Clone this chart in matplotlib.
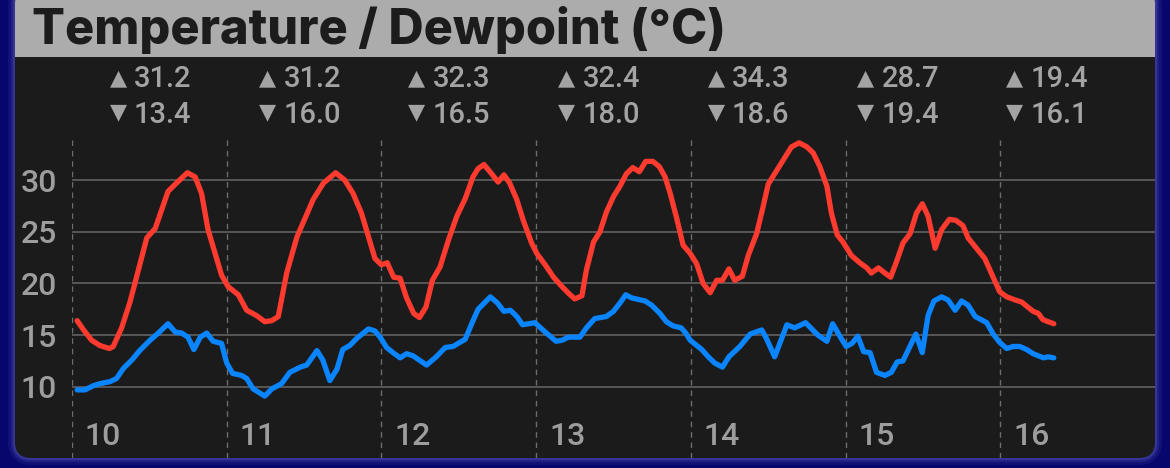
import matplotlib
matplotlib.use("Agg")
import matplotlib.pyplot as plt
from matplotlib.patches import FancyBboxPatch, Rectangle
from matplotlib import transforms

# ---------------- data ----------------
days = [10, 11, 12, 13, 14, 15, 16]
daily_max = [31.2, 31.2, 32.3, 32.4, 34.3, 28.7, 19.4]
daily_min = [13.4, 16.0, 16.5, 18.0, 18.6, 19.4, 16.1]
y_ticks = [10, 15, 20, 25, 30]

# hours since day 10 00:00
temp_hours = [0.8, 1.8, 3.05, 4.3, 5.8, 6.4, 7.7, 9.0, 10.3, 11.6, 12.9, 13.9, 14.9, 16.2, 17.9,
              19.1, 20.1, 21.1, 22.2, 23.2, 24.2, 25.8, 27.1, 28.6, 29.9, 31.0, 32.0, 33.3, 34.9,
              37.4, 39.0, 40.9, 42.3, 43.6, 44.9, 46.0, 47.0, 48.0, 48.9, 49.9, 50.9, 51.9, 53.0,
              53.9, 54.9, 55.9, 57.1, 58.4, 59.7, 61.0, 62.2, 63.0, 63.9, 65.1, 66.1, 67.0, 67.9,
              69.0, 70.0, 71.3, 72.1, 73.4, 74.7, 76.0, 77.1, 78.0, 79.1, 79.8, 80.9, 81.9, 82.9,
              84.0, 85.0, 86.0, 87.0, 88.0, 89.0, 90.1, 91.1, 92.0, 92.8, 93.8, 94.8, 95.9, 96.9,
              97.9, 99.0, 100.0, 100.9, 101.9, 102.8, 104.0, 104.9, 106.2, 107.2, 108.0, 109.0,
              110.3, 111.6, 112.8, 114.0, 115.0, 116.0, 117.1, 117.8, 118.7, 119.6, 120.9, 122.2,
              123.3, 124.0, 125.1, 126.1, 127.0, 127.9, 128.9, 130.0, 131.0, 131.9, 132.8, 133.9,
              134.9, 136.1, 137.1, 138.2, 139.0, 140.3, 141.6, 142.6, 143.9, 145.0, 146.3, 147.3,
              148.3, 149.1, 149.9, 150.6, 151.4, 152.3]
temperature = [16.4, 15.5, 14.5, 14.0, 13.7, 13.9, 15.7, 18.2, 21.3, 24.4, 25.3, 27.1, 28.9, 29.7, 30.7,
               30.3, 28.7, 25.2, 22.9, 20.8, 19.7, 18.9, 17.4, 16.9, 16.3, 16.4, 16.8, 21.0, 24.5,
               28.1, 29.7, 30.7, 30.0, 28.7, 26.8, 24.5, 22.4, 21.8, 22.0, 20.6, 20.5, 18.6, 17.1,
               16.7, 17.7, 20.3, 21.6, 24.2, 26.5, 28.2, 30.3, 31.1, 31.5, 30.6, 29.8, 30.5, 29.7,
               28.1, 26.1, 23.9, 22.9, 21.8, 20.6, 19.7, 19.0, 18.5, 18.8, 21.3, 24.0, 25.0, 26.9,
               28.4, 29.4, 30.6, 31.2, 30.8, 31.8, 31.8, 31.3, 30.3, 28.7, 26.3, 23.7, 22.9, 21.9,
               20.0, 19.1, 20.3, 20.3, 21.4, 20.3, 20.7, 22.7, 24.8, 27.4, 29.6, 30.6,
               31.9, 33.2, 33.6, 33.2, 32.6, 31.3, 29.4, 26.8, 24.7, 24.0, 22.7, 22.0,
               21.5, 21.0, 21.5, 21.0, 20.6, 22.1, 23.9, 24.8, 26.8, 27.7, 26.5, 23.4,
               25.2, 26.2, 26.1, 25.6, 24.4, 23.4, 22.4, 21.0, 19.2, 18.7, 18.4, 18.2,
               17.7, 17.3, 17.1, 16.5, 16.3, 16.1]

dew_hours = [0.8, 2.0, 3.3, 4.3, 5.9, 6.9, 8.0, 9.3, 10.5, 12.1, 13.4, 14.9, 16.0, 17.0, 18.0, 18.9,
             19.9, 20.9, 21.9, 23.2, 24.0, 24.9, 26.3, 27.1, 28.1, 29.9, 31.0, 32.5, 33.8, 35.4,
             36.4, 38.0, 38.9, 40.0, 41.1, 42.0, 43.1, 44.2, 46.0, 47.0, 47.8, 48.8, 49.8, 50.9,
             51.9, 52.9, 55.0, 56.5, 57.9, 59.1, 61.0, 62.0, 63.0, 64.9, 66.0, 67.0, 68.0, 69.0,
             69.9, 71.8, 73.4, 75.1, 76.0, 77.0, 78.8, 79.8, 81.1, 82.9, 84.0, 85.0, 85.9, 86.8,
             88.9, 89.9, 91.2, 92.2, 93.2, 94.5, 95.2, 95.9, 97.7, 98.7, 99.7, 100.9, 101.9, 103.6,
             105.2, 107.0, 107.7, 109.0, 110.9, 112.1, 113.8, 115.7, 117.1, 118.0, 119.2, 120.1,
             121.0, 121.9, 122.8, 123.8, 124.8, 126.1, 127.1, 128.0, 128.9, 130.9, 131.9, 132.8,
             133.7, 134.9, 135.9, 137.0, 138.0, 139.0, 140.1, 141.9, 142.9, 143.9, 145.0, 146.0,
             147.0, 148.1, 149.1, 149.9, 150.7, 151.4, 152.3]
dewpoint = [9.7, 9.7, 10.1, 10.3, 10.5, 10.8, 11.8, 12.6, 13.5, 14.5, 15.2, 16.1, 15.3, 15.2, 14.8, 13.6,
            14.8, 15.2, 14.4, 14.2, 12.3, 11.3, 11.1, 10.8, 9.8, 9.1, 9.8, 10.3, 11.4, 11.9,
            12.1, 13.5, 12.6, 10.6, 11.7, 13.6, 14.0, 14.7, 15.6, 15.4, 14.8, 13.8, 13.3, 12.8,
            13.2, 13.0, 12.1, 12.9, 13.8, 13.9, 14.6, 16.1, 17.5, 18.7, 18.1, 17.3, 17.4, 16.8,
            16.0, 16.2, 15.3, 14.4, 14.5, 14.8, 14.8, 15.7, 16.6, 16.8, 17.3, 18.1, 18.9, 18.6,
            18.3, 17.9, 17.1, 16.3, 15.9, 15.7, 15.2, 14.5, 13.6, 12.9, 12.3, 11.9, 12.9, 13.9,
            15.1, 15.5, 14.7, 12.9, 16.0, 15.7, 16.2, 15.0, 14.4, 16.1, 14.8, 13.9,
            14.2, 14.9, 13.4, 13.3, 11.4, 11.1, 11.4, 12.4, 12.5, 15.1, 13.3, 16.9,
            18.3, 18.7, 18.4, 17.4, 18.3, 17.9, 16.8, 16.2, 15.1, 14.3, 13.7, 13.9,
            13.9, 13.6, 13.2, 13.0, 12.8, 12.9, 12.8]

# ---------------- style ----------------
W, H = 1170, 468
NAVY = '#06066c'
PANEL = '#1b1b1b'
HEADER = '#acacac'
GRAY_TXT = '#a3a3a3'
TICK_TXT = '#9d9d9d'
RED = '#ff3b30'
BLUE = '#0a84ff'
TITLE_FONT = ['Inter', 'DejaVu Sans']
FONT = ['Roboto', 'Inter', 'DejaVu Sans']

fig = plt.figure(figsize=(W / 100, H / 100), dpi=100)
fig.patch.set_facecolor(NAVY)

bg = fig.add_axes([0, 0, 1, 1])
bg.set_xlim(0, W)
bg.set_ylim(H, 0)
bg.axis('off')

# glow around card
for lw, a in [(10, 0.15), (6, 0.25), (3, 0.45)]:
    bg.add_patch(FancyBboxPatch((15, -12), 1140, 470, boxstyle="round,pad=0,rounding_size=16",
                                fc='none', ec='#5050b0', lw=lw, alpha=a))
card = FancyBboxPatch((15, -12), 1140, 470, boxstyle="round,pad=0,rounding_size=16",
                      fc=PANEL, ec='none')
bg.add_patch(card)
hdr = Rectangle((15, -12), 1140, 69, fc=HEADER, ec='none')
bg.add_patch(hdr)
hdr.set_clip_path(card)

bg.text(32, 44, 'Temperature / Dewpoint (°C)', fontsize=35, fontweight='heavy',
        color='#1c1c1c', va='baseline', ha='left', family=TITLE_FONT)

# daily max / min annotations
for i, (mx, mn) in enumerate(zip(daily_max, daily_min)):
    xc = 118 + 149.5 * i
    bg.text(xc, 78, '▲', fontsize=16, color=GRAY_TXT, ha='center', va='center',
            family=['DejaVu Sans'])
    bg.text(xc + 16, 87, f'{mx:.1f}', fontsize=21, fontweight='medium', color=GRAY_TXT,
            ha='left', va='baseline', family=FONT)
    bg.text(xc, 112, '▼', fontsize=16, color=GRAY_TXT, ha='center', va='center',
            family=['DejaVu Sans'])
    bg.text(xc + 16, 123, f'{mn:.1f}', fontsize=21, fontweight='medium', color=GRAY_TXT,
            ha='left', va='baseline', family=FONT)

# ---------------- chart ----------------
x0, x1, ytop, ybot = 72, 1155, 135, 458
ax = fig.add_axes([x0 / W, (H - ybot) / H, (x1 - x0) / W, (ybot - ytop) / H])
ax.patch.set_alpha(0)
px_per_deg = 51.7 / 5
ax.set_ylim(30 - (ybot - 180) / px_per_deg, 30 + (180 - ytop) / px_per_deg)
ax.set_xlim(0, 7 * 24)
for s in ax.spines.values():
    s.set_visible(False)

ax.set_yticks(y_ticks)
ax.set_yticklabels([str(v) for v in y_ticks])
ax.tick_params(axis='y', length=0, pad=11, labelsize=23, labelcolor=TICK_TXT)
for lab in ax.get_yticklabels():
    lab.set_family(FONT)
    lab.set_fontweight('medium')
ax.set_xticks([])
ax.grid(axis='y', color='#5c5c5c', lw=1.3)
ax.set_axisbelow(True)

for d in days:
    ax.axvline((d - days[0]) * 24, color='#6c6c6c', lw=1, ls=(0, (4, 3.5)), zorder=1)

tr = transforms.blended_transform_factory(ax.transData, ax.transAxes)
for d in days:
    ax.text((d - days[0]) * 24 + 2.0, 0.068, str(d), transform=tr, fontsize=23,
            fontweight='medium', color=TICK_TXT, ha='left', va='center', family=FONT)

ax.plot(temp_hours, temperature, color=RED, lw=3.8, solid_capstyle='round',
        solid_joinstyle='round', zorder=3)
ax.plot(dew_hours, dewpoint, color=BLUE, lw=3.8, solid_capstyle='round',
        solid_joinstyle='round', zorder=3)

fig.savefig('out.png', dpi=100, facecolor=NAVY)
